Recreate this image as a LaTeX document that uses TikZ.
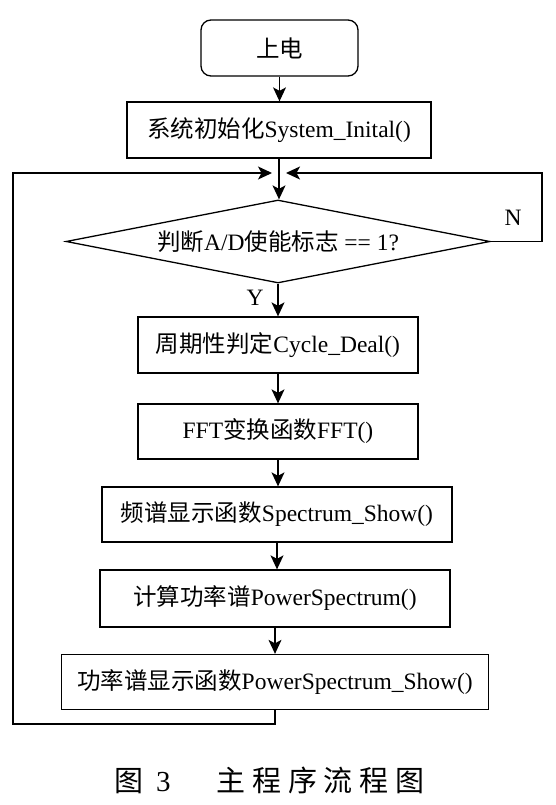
\documentclass[tikz,border=0pt]{standalone}
\usepackage{fontspec}
\setmainfont{Liberation Serif}
\newfontfamily\cjk{Noto Sans CJK SC}
\newfontfamily\capcjk[LetterSpace=23]{Noto Sans CJK SC}
\usetikzlibrary{shapes.geometric,arrows.meta}
\begin{document}
\begin{tikzpicture}[x=1pt,y=-1pt,
  every node/.style={font=\fontsize{23.5}{28}\selectfont},
  box/.style={draw, line width=1.3pt, inner sep=0pt, minimum height=56pt},
  arr/.style={line width=1.3pt, -{Stealth[length=14pt,width=13pt,inset=3.5pt]}},
  ln/.style={line width=1.3pt}]
\useasboundingbox (0,0) rectangle (555,805);

\node[box, rounded corners=10pt, minimum width=157pt] (start) at (279.5,48) {\cjk 上电};
\node[box, minimum width=304pt] (init) at (279,130) {{\cjk 系统初始化}System\_Inital()};
\node[draw, line width=1.3pt, shape=diamond, aspect=5.1, inner sep=0pt,
      minimum width=424pt, minimum height=83pt] (dec) at (278,241.5) {{\cjk 判断}A/D{\cjk 使能标志} == 1?};
\node[box, minimum width=280pt] (cyc) at (278,345) {{\cjk 周期性判定}Cycle\_Deal()};
\node[box, minimum width=280pt, minimum height=55pt] (fft) at (278,431.5) {FFT{\cjk 变换函数}FFT()};
\node[box, minimum width=350pt, minimum height=55pt] (spec) at (277,514.5) {{\cjk 频谱显示函数}Spectrum\_Show()};
\node[box, minimum width=350pt, minimum height=57pt] (pow) at (275,598.5) {{\cjk 计算功率谱}PowerSpectrum()};
\node[box, minimum width=427pt, minimum height=55pt] (ps) at (275,682) {{\cjk 功率谱显示函数}PowerSpectrum\_Show()};

\node (ylab) at (255,298) {Y};
\node (nlab) at (513,218) {N};

\coordinate (merge) at (279,173);
\coordinate (bl) at (13,724);
\coordinate (tl) at (13,173);
\coordinate (tr) at (542,173);

\draw[arr] (start.south) -- (start.south |- init.north);
\draw[arr] (init.south) -- (init.south |- dec.north);
\draw[arr] (dec.south) -- (dec.south |- cyc.north);
\draw[arr] (cyc.south) -- (cyc.south |- fft.north);
\draw[arr] (fft.south) -- (fft.south |- spec.north);
\draw[arr] (spec.south) -- (spec.south |- pow.north);
\draw[arr] (pow.south) -- (pow.south |- ps.north);
\draw[arr] (ps.south) |- (bl) -- (tl) -- ([xshift=-7pt]merge);
\draw[arr] (dec.east) -| (tr) -- ([xshift=7pt]merge);

\node[font=\fontsize{29}{34}\selectfont, anchor=west, inner sep=0pt] (cap) at (114,780)
  {{\cjk 图}\hspace{13pt}3\hspace{46pt}{\capcjk 主程序流程图}};
\end{tikzpicture}
\end{document}
